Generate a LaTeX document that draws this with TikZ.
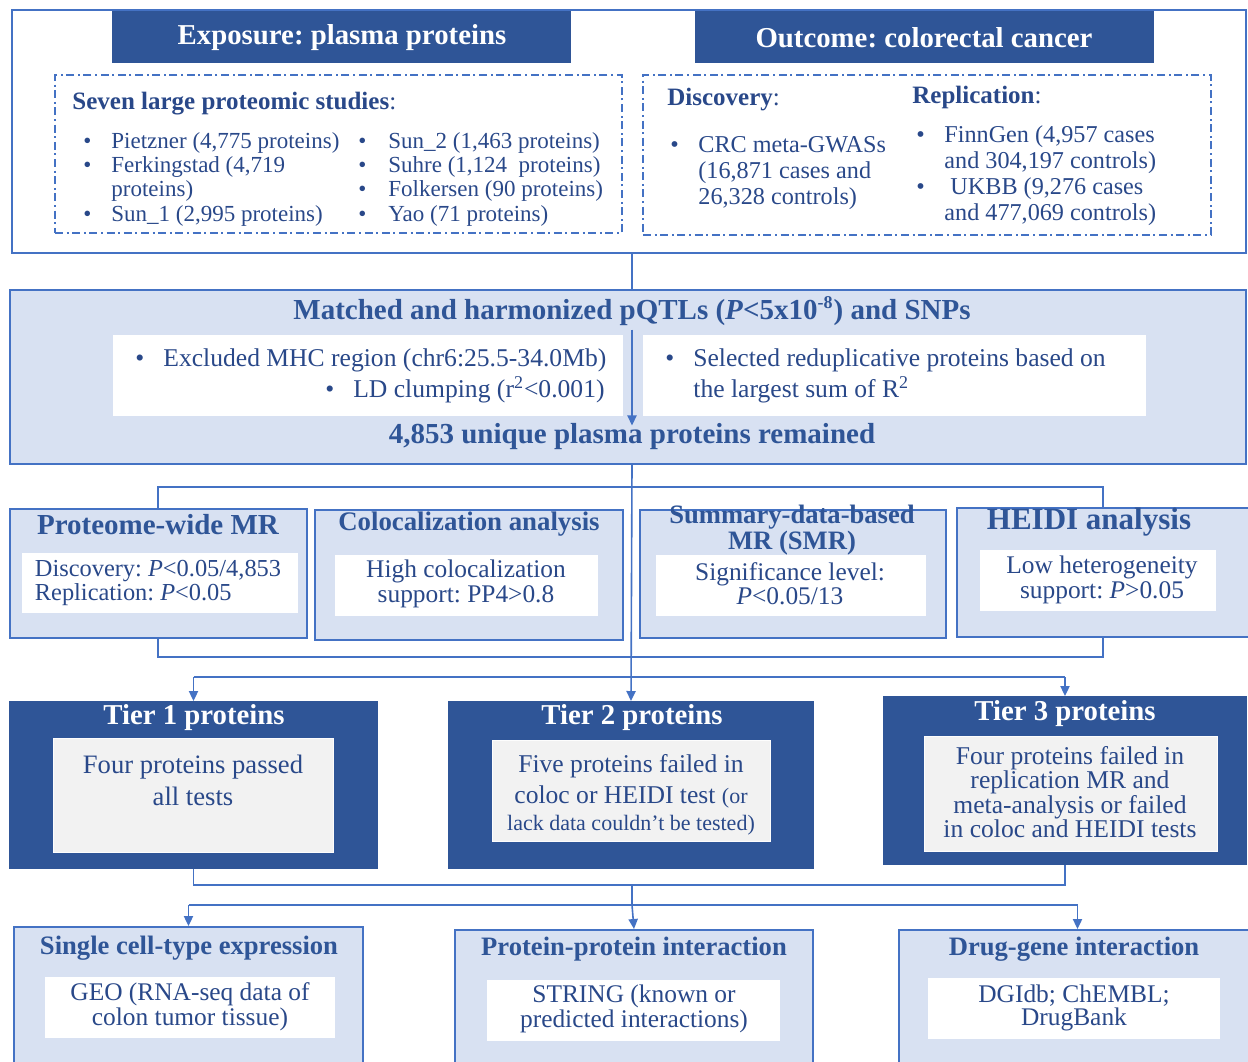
\documentclass[tikz,border=0pt]{standalone}
\usepackage{fontspec}
\setmainfont{Liberation Serif}
\frenchspacing
\usetikzlibrary{positioning, arrows.meta, fit, calc}
\definecolor{tierBlue}{HTML}{2F5597}
\definecolor{lineBlue}{HTML}{4472C4}
\definecolor{paleBlue}{HTML}{D8E1F2}
\definecolor{inkBlue}{HTML}{294889}
\definecolor{paleGrey}{HTML}{F2F2F2}
\newcommand{\fs}[2]{\fontsize{#1}{#2}\selectfont}
\newcommand{\bul}{\makebox[14pt][l]{\textbullet}}
\tikzset{
  panel/.style={draw=lineBlue, fill=paleBlue, line width=1pt, inner sep=0pt},
  tierbox/.style={draw=tierBlue, fill=tierBlue, line width=1pt, inner sep=0pt},
  whitebox/.style={fill=white, inner sep=0pt},
  greybox/.style={fill=paleGrey, draw=white!85!paleGrey, line width=0.4pt, inner sep=0pt},
  dashbox/.style={draw=lineBlue, line width=0.9pt,
    dash pattern=on 4pt off 1.8pt on 1pt off 1.8pt, inner sep=0pt},
  head/.style={font=\fs{14.4}{15}\bfseries, text=tierBlue, inner sep=0pt},
  body/.style={font=\fs{11.5}{12.2}, text=inkBlue, inner sep=0pt},
  link/.style={draw=lineBlue, line width=0.8pt},
  arr/.style={link, -{Triangle[length=5pt,width=4.6pt]}},
}
\begin{document}
\begin{tikzpicture}[x=0.5pt, y=-0.5pt]
  \useasboundingbox (0,0) rectangle (1248,1061);
  \coordinate (spine) at (632,0);

  % exposure and outcome
  \node[draw=lineBlue, line width=1pt, inner sep=0pt, fit={(12,10) (1246,253)}] (top) {};
  \node[tierbox, fit={(113,12) (570,62)}] (exph) {};
  \node[head, text=white] (expt) at (342,38) {Exposure: plasma proteins};
  \node[tierbox, fit={(696,12) (1153,62)}] (outh) {};
  \node[head, text=white] (outt) at (924,38) {Outcome: colorectal cancer};
  \node[dashbox, fit={(55,75) (622,233)}] (expd) {};
  \node[dashbox, fit={(643,75) (1211,235)}] (outd) {};

  \node[body, font=\fs{12.5}{13}, anchor=base west] (seven) at (72,109) {\textbf{Seven large proteomic studies}:};
  \node[body, anchor=base west] (pie) at (83,148) {\bul Pietzner (4,775 proteins)};
  \node[body, anchor=base west] (fer) at (83,172) {\bul Ferkingstad (4,719};
  \node[body, anchor=base west] (ferb) at (111,196) {proteins)};
  \node[body, anchor=base west] (sun1) at (83,221) {\bul Sun\_1 (2,995 proteins)};
  \node[body, anchor=base west] (sun2) at (358,148) {\makebox[15pt][l]{\textbullet}Sun\_2 (1,463 proteins)};
  \node[body, anchor=base west] (suh) at (358,172) {\makebox[15pt][l]{\textbullet}Suhre (1,124~ proteins)};
  \node[body, anchor=base west] (fol) at (358,196) {\makebox[15pt][l]{\textbullet}Folkersen (90 proteins)};
  \node[body, anchor=base west] (yao) at (358,221) {\makebox[15pt][l]{\textbullet}Yao (71 proteins)};

  \node[body, font=\fs{12.5}{13}, anchor=base west] (disc) at (667,105) {\textbf{Discovery}:};
  \node[body, font=\fs{12.5}{13}, anchor=base west] (repl) at (912,103) {\textbf{Replication}:};
  \node[body, font=\fs{12.1}{13}, anchor=base west] (crc) at (670,152) {\bul CRC meta-GWASs};
  \node[body, font=\fs{12.1}{13}, anchor=base west] (crcb) at (698,178) {(16,871 cases and};
  \node[body, font=\fs{12.1}{13}, anchor=base west] (crcc) at (698,204) {26,328 controls)};
  \node[body, font=\fs{12.1}{13}, anchor=base west] (fin) at (916,142) {\bul FinnGen (4,957 cases};
  \node[body, font=\fs{12.1}{13}, anchor=base west] (finb) at (944,168) {and 304,197 controls)};
  \node[body, font=\fs{12.1}{13}, anchor=base west] (ukb) at (916,194) {\bul\ UKBB (9,276 cases};
  \node[body, font=\fs{12.1}{13}, anchor=base west] (ukbb) at (944,220) {and 477,069 controls)};

  % harmonization
  \node[panel, fit={(10,290) (1246,464)}] (match) {};
  \node[head, font=\fs{14.5}{15}\bfseries] (mtitle) at (632,311) {Matched and harmonized pQTLs (\textit{P}<5x10\textsuperscript{\fs{9}{9}-8}) and SNPs};
  \node[whitebox, fit={(113,335) (623,416)}] (mleft) {};
  \node[whitebox, fit={(643,335) (1146,416)}] (mright) {};
  \node[body, font=\fs{12.8}{13}, anchor=base west] (mhc) at (135,366) {\bul Excluded MHC region (chr6:25.5-34.0Mb)};
  \node[body, font=\fs{12.8}{13}, anchor=base east] (ld) at (605,397) {\bul LD clumping (r\textsuperscript{\fs{9}{9}2}<0.001)};
  \node[body, font=\fs{12.8}{13}, anchor=base west] (sel) at (665,366) {\bul Selected reduplicative proteins based on};
  \node[body, font=\fs{12.8}{13}, anchor=base west] (sumr) at (693,397) {the largest sum of R\textsuperscript{\fs{9}{9}2}};
  \node[head, font=\fs{14.5}{15}\bfseries] (mfoot) at (632,437) {4,853 unique plasma proteins remained};

  % four analyses
  \node[panel, fit={(10,509) (307,638)}] (mr) {};
  \node[head, font=\fs{14.5}{15}\bfseries] (mrt) at (158,525) {Proteome-wide MR};
  \node[whitebox, fit={(22,553) (298,613)}] (mrw) {};
  \node[body, font=\fs{12.2}{10.5}, align=left] (mrx) at (158,583) {Discovery: \textit{P}<0.05/4,853\\Replication: \textit{P}<0.05};

  \node[panel, fit={(315,510) (623,640)}] (coloc) {};
  \node[head, font=\fs{13.4}{15}\bfseries] (colt) at (469,524) {Colocalization analysis};
  \node[whitebox, fit={(335,555) (598,616)}] (colw) {};
  \node[body, font=\fs{12.7}{10.5}, align=center] (colx) at (466,584) {High colocalization\\support: PP4>0.8};

  \node[panel, fit={(640,510) (946,638)}] (smr) {};
  \node[head, font=\fs{13.3}{10.5}\bfseries, align=center] (smrt) at (792,530) {Summary-data-based\\MR (SMR)};
  \node[whitebox, fit={(656,555) (926,616)}] (smrw) {};
  \node[body, font=\fs{12.7}{10.5}, align=center] (smrx) at (790,584) {Significance level:\\\textit{P}<0.05/13};

  \node[panel, fit={(957,508) (1252,637)}] (heidi) {};
  \node[head, font=\fs{15.5}{15}\bfseries] (heit) at (1089,522) {HEIDI analysis};
  \node[whitebox, fit={(980,550) (1216,611)}] (heiw) {};
  \node[body, font=\fs{12.7}{10.5}, align=center] (heix) at (1102,580) {Low heterogeneity\\support: \textit{P}>0.05};

  % tiers
  \node[tierbox, fit={(10,702) (377,868)}] (tier1) {};
  \node[head, text=white] (t1t) at (194,718) {Tier 1 proteins};
  \node[greybox, fit={(53,738) (333,852)}] (t1g) {};
  \node[body, font=\fs{13.3}{16}, align=center] (t1x) at (193,780) {Four proteins passed\\all tests};

  \node[tierbox, fit={(449,702) (813,868)}] (tier2) {};
  \node[head, text=white] (t2t) at (632,718) {Tier 2 proteins};
  \node[greybox, fit={(492,740) (770,841)}] (t2g) {};
  \node[body, font=\fs{12.8}{15.5}, align=center] (t2x) at (631,795) {Five proteins failed in\\coloc or HEIDI test {\fs{11}{13}(or}\\[-2pt]{\fs{11}{13}lack data couldn't be tested)}};

  \node[tierbox, fit={(884,697) (1246,864)}] (tier3) {};
  \node[head, text=white] (t3t) at (1065,714) {Tier 3 proteins};
  \node[greybox, fit={(924,736) (1217,851)}] (t3g) {};
  \node[body, font=\fs{12.8}{12.2}, align=center] (t3x) at (1070,792) {Four proteins failed in\\replication MR and\\meta-analysis or failed\\in coloc and HEIDI tests};

  % follow-up
  \node[panel, fit={(14,927) (363,1075)}] (sc) {};
  \node[head, font=\fs{13.3}{15}\bfseries] (sct) at (189,948) {Single cell-type expression};
  \node[whitebox, fit={(45,977) (335,1038)}] (scw) {};
  \node[body, font=\fs{12.7}{11.5}, align=center] (scx) at (190,1007) {GEO (RNA-seq data of\\colon tumor tissue)};

  \node[panel, fit={(455,930) (813,1075)}] (ppi) {};
  \node[head, font=\fs{13.3}{15}\bfseries] (ppit) at (634,949) {Protein-protein interaction};
  \node[whitebox, fit={(487,980) (780,1041)}] (ppiw) {};
  \node[body, font=\fs{12.7}{11.5}, align=center] (ppix) at (634,1009) {STRING (known or\\predicted interactions)};

  \node[panel, fit={(899,930) (1256,1075)}] (dg) {};
  \node[head, font=\fs{13.3}{15}\bfseries] (dgt) at (1074,949) {Drug-gene interaction};
  \node[whitebox, fit={(928,978) (1220,1039)}] (dgw) {};
  \node[body, font=\fs{12.7}{11.5}, align=center] (dgx) at (1074,1008) {DGIdb; ChEMBL;\\DrugBank};

  % connectors
  \coordinate (bl) at (158,487);
  \coordinate (br) at (1103,487);
  \coordinate (cl) at (158,657);
  \coordinate (cr) at (1103,657);
  \coordinate (split) at (632,677);
  \coordinate (merge) at (632,885);
  \coordinate (fan) at (632,905);
  \draw[link] (top.south -| spine) -- (match.north -| spine);
  \draw[arr] ([yshift=-2pt]mtitle.south -| spine) -- ([yshift=-1pt]mfoot.north -| spine);
  \draw[arr] (match.south -| spine) -- (tier2.north);
  \draw[link] (mr.north -| bl) -- (bl) -- (br) -- (heidi.north -| br);
  \draw[link] (mr.south -| cl) -- (cl) -- (cr) -- (heidi.south -| cr);
  \draw[link] (tier1.north |- split) -- (tier3.north |- split);
  \draw[arr] (tier1.north |- split) -- (tier1.north);
  \draw[arr] (tier3.north |- split) -- (tier3.north);
  \draw[link] (tier1.south) |- (merge) -| (tier3.south);
  \draw[link] (merge) -- (fan);
  \draw[link] (sc.north |- fan) -- (dg.north |- fan);
  \draw[arr] (sc.north |- fan) -- (sc.north);
  \draw[arr] (fan) -- (ppi.north);
  \draw[arr] (dg.north |- fan) -- (dg.north);
\end{tikzpicture}
\end{document}
